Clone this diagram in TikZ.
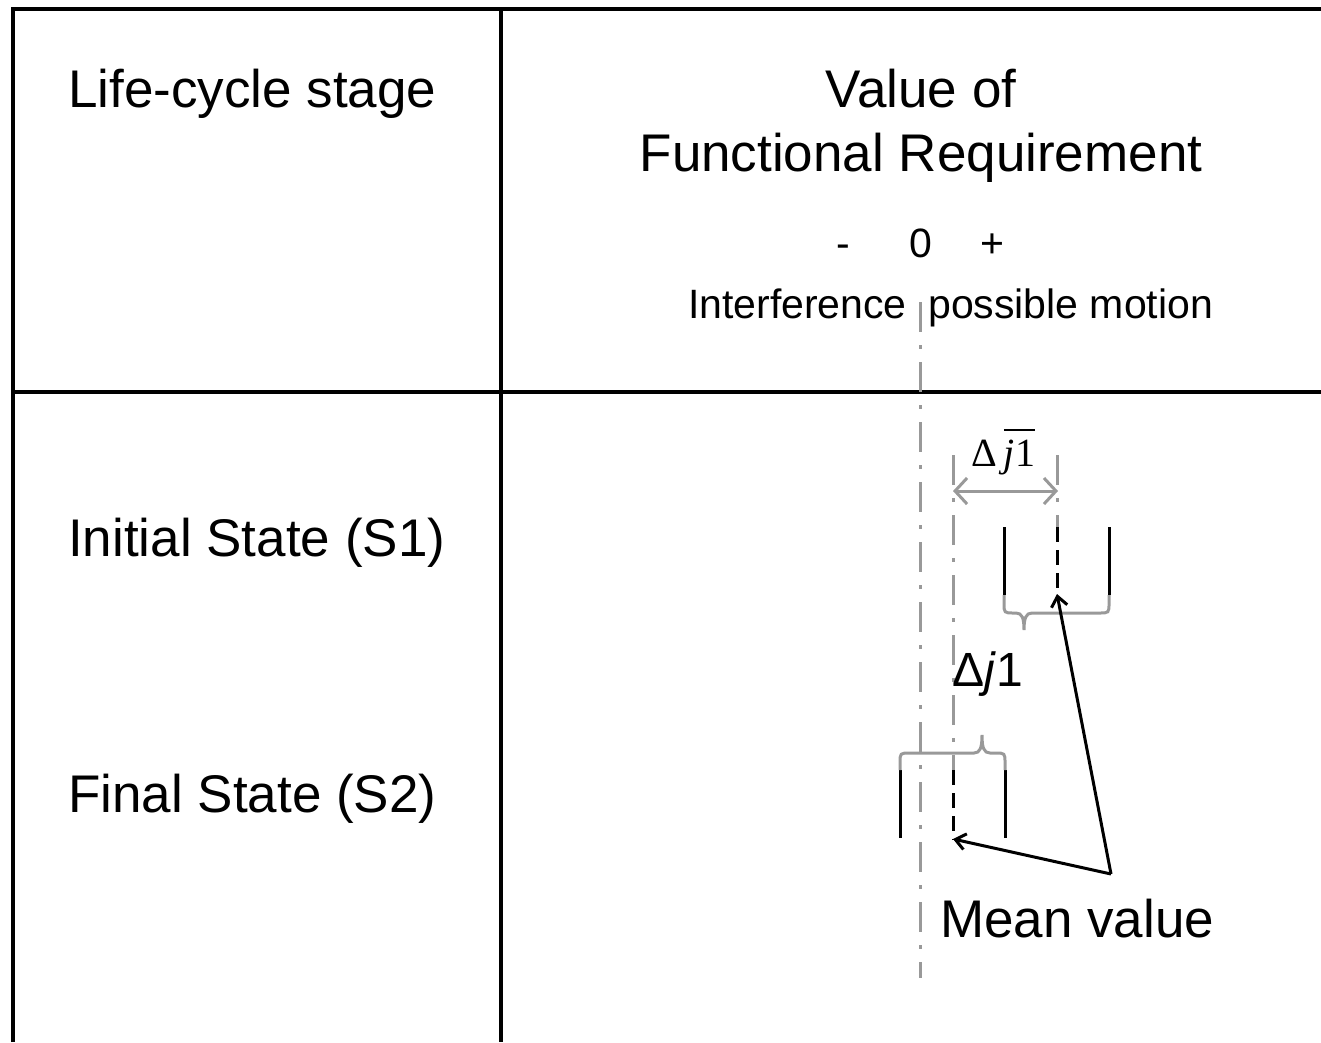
\documentclass[tikz,border=0pt]{standalone}
\usepackage{fontspec}
\setmainfont{Liberation Sans}
\newfontfamily\timesfont{Liberation Serif}
\usetikzlibrary{arrows.meta}
\definecolor{axisgray}{RGB}{153,153,153}
\newcommand{\barred}[1]{\leavevmode\vbox{\hrule height 1.6pt\kern 9pt\hbox{#1}}}

\begin{document}
\begin{tikzpicture}[x=1pt, y=-1pt,
  bigtxt/.style={inner sep=0, font=\fontsize{53}{60}\selectfont},
  smalltxt/.style={inner sep=0, font=\fontsize{41}{48}\selectfont},
  grid/.style={line width=3.5pt},
  axisline/.style={axisgray, line width=3pt, dash pattern=on 30pt off 13pt on 4pt off 13pt},
  bar/.style={line width=3pt},
  meanline/.style={line width=3pt, dash pattern=on 15pt off 8pt},
  brace/.style={axisgray, line width=3pt},
  dimarrow/.style={axisgray, line width=3pt, {Straight Barb[length=12pt,width=26pt]}-{Straight Barb[length=12pt,width=26pt]}},
  pointer/.style={line width=3pt, -{Straight Barb[length=10pt,width=16pt]}}]
\useasboundingbox (0,0) rectangle (1321,1042);

% table
\draw[grid] (13,1042) -- (13,9) -- (1321,9);
\draw[grid] (13,392) -- (1321,392);
\draw[grid] (501,9) -- (501,1042);

% headers
\node[bigtxt, anchor=base west] (stage) at (68,107) {Life-cycle stage};
\node[bigtxt, anchor=base] (value) at (921,107) {Value of};
\node[bigtxt, anchor=base] (func) at (921,171) {Functional Requirement};
\node[smalltxt, anchor=base] (minus) at (843,257) {-};
\node[smalltxt, anchor=base] (zero) at (921,257) {0};
\node[smalltxt, anchor=base] (plus) at (992,257) {+};
\node[smalltxt, anchor=base east] (interf) at (907,318) {Interference};
\node[smalltxt, anchor=base west] (motion) at (928,318) {possible motion};

% stages
\node[bigtxt, anchor=base west] (s1) at (68,556) {Initial State (S1)};
\node[bigtxt, anchor=base west] (s2) at (68,812) {Final State (S2)};

% axes
\draw[axisline] (920,302) -- (920,978);
\draw[axisline] (953,455) -- (953,770);
\draw[axisline] (1057,455) -- (1057,527);

% S1 interval
\draw[bar] (1004,527) -- (1004,595);
\draw[bar] (1109,527) -- (1109,595);
\draw[meanline] (1057,527) -- (1057,597);
\draw[brace] (1004,595) -- (1004,603) .. controls (1004,613) .. (1014,613) -- (1016,613)
  .. controls (1022,613) and (1024,618) .. (1024,630) .. controls (1024,618) and (1026,613) .. (1032,613)
  -- (1099,613) .. controls (1109,613) .. (1109,603) -- (1109,595);

% S2 interval
\draw[bar] (900,770) -- (900,838);
\draw[bar] (1005,770) -- (1005,838);
\draw[meanline] (953,770) -- (953,840);
\draw[brace] (900,770) -- (900,763) .. controls (900,753) .. (910,753) -- (974,753)
  .. controls (980,753) and (982,748) .. (982,735) .. controls (982,748) and (984,753) .. (990,753)
  -- (995,753) .. controls (1005,753) .. (1005,763) -- (1005,770);

% dimensions
\coordinate (dimL) at (953,491);
\coordinate (dimR) at (1058,491);
\draw[dimarrow] (dimL) -- (dimR);
\node[inner sep=0, anchor=base west, font=\timesfont\fontsize{40}{46}\selectfont] (jbar) at (971,466) {Δ\hspace{7pt}\barred{\textit{j}1}};
\node[bigtxt, anchor=base west, font=\fontsize{48}{56}\selectfont] (dj) at (952,686) {Δ\textit{j}1};

% mean value
\node[bigtxt, anchor=base west] (meanlbl) at (940,937) {Mean value};
\coordinate (meanpt) at (1111,874);
\coordinate (mean1) at (1057,594);
\coordinate (mean2) at (953,839);
\draw[pointer] (meanpt) -- (mean1);
\draw[pointer] (meanpt) -- (mean2);

\end{tikzpicture}
\end{document}
